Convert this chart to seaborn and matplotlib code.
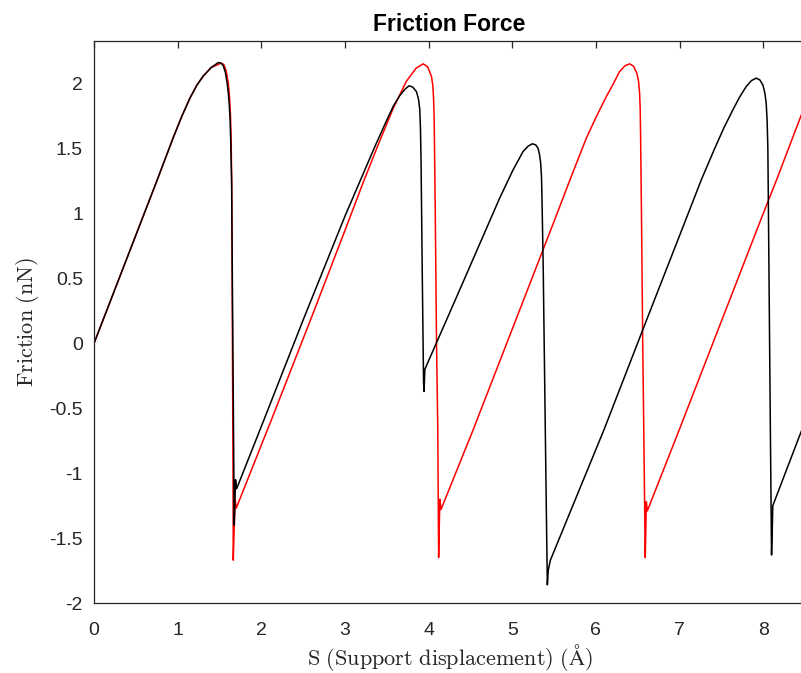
import matplotlib
matplotlib.use("Agg")
import matplotlib.pyplot as plt
import pandas as pd
import seaborn as sns

# Friction force vs. support displacement, two stick-slip runs
black_s = [0.00, 0.30, 0.60, 0.75, 0.95, 1.05, 1.147, 1.23, 1.306, 1.40, 1.485,
           1.52, 1.545, 1.57, 1.593, 1.607, 1.617, 1.627, 1.633, 1.645, 1.660,
           1.672, 1.676, 1.685, 1.692, 1.705, 2.043, 2.50, 3.00, 3.20,
           3.36, 3.50, 3.58, 3.656, 3.72, 3.767, 3.81, 3.855, 3.88, 3.895, 3.903,
           3.91, 3.925, 3.940, 3.946, 3.955, 4.37, 4.85, 5.01, 5.129, 5.19, 5.241,
           5.28, 5.308, 5.325, 5.34, 5.35, 5.356, 5.37, 5.39, 5.41, 5.42, 5.43,
           5.456, 6.10, 6.60, 7.00, 7.26, 7.419, 7.53, 7.638, 7.72, 7.797, 7.86,
           7.917, 7.96, 7.996, 8.02, 8.036, 8.047, 8.056, 8.07, 8.085, 8.10,
           8.108, 8.115, 8.43, 8.55]
black_f = [0.00, 0.50, 1.00, 1.25, 1.59, 1.75, 1.89, 1.99, 2.06, 2.125, 2.164,
           2.16, 2.14, 2.09, 2.00, 1.92, 1.84, 1.72, 1.60, 1.25, 0.00,
           -1.00, -1.40, -1.20, -1.05, -1.12, -0.57, 0.18, 0.98, 1.28,
           1.52, 1.72, 1.83, 1.91, 1.96, 1.985, 1.975, 1.94, 1.88, 1.80, 1.65,
           1.40, 0.50, -0.30, -0.37, -0.20, 0.41, 1.12, 1.337, 1.478, 1.52, 1.538,
           1.53, 1.504, 1.46, 1.39, 1.28, 1.106, 0.60, -0.40, -1.40, -1.86, -1.75,
           -1.67, -0.66, 0.17, 0.83, 1.26, 1.50, 1.66, 1.80, 1.90, 1.979, 2.025,
           2.044, 2.03, 1.992, 1.93, 1.851, 1.72, 1.504, 0.50, -0.60, -1.63,
           -1.45, -1.25, -0.72, -0.52]

red_s = [0.00, 0.30, 0.60, 0.75, 0.95, 1.05, 1.147, 1.23, 1.306, 1.40, 1.513,
         1.55, 1.58, 1.605, 1.62, 1.632, 1.64, 1.647, 1.655, 1.662, 1.665,
         1.675, 1.688, 1.70, 2.12, 2.60, 3.00, 3.218, 3.397, 3.576, 3.735, 3.85,
         3.935, 3.99, 4.035, 4.052, 4.06, 4.066, 4.07, 4.08, 4.095, 4.11, 4.12,
         4.128, 4.135, 4.148, 4.53, 5.00, 5.50, 5.69, 5.886, 6.00, 6.125, 6.20,
         6.284, 6.35, 6.404, 6.45, 6.49, 6.51, 6.523, 6.53, 6.535, 6.545, 6.56,
         6.575, 6.59, 6.598, 6.603, 6.615, 7.00, 7.50, 8.00, 8.16, 8.45, 8.55]
red_f = [0.00, 0.50, 1.00, 1.25, 1.59, 1.75, 1.89, 1.99, 2.06, 2.125, 2.158,
         2.15, 2.10, 2.01, 1.90, 1.75, 1.55, 1.20, 0.00, -1.00, -1.67,
         -1.45, -1.20, -1.27, -0.59, 0.20, 0.87, 1.24, 1.53, 1.81, 2.02, 2.12,
         2.154, 2.13, 2.056, 1.98, 1.877, 1.75, 1.57, 1.00, 0.00, -0.67, -1.65,
         -1.40, -1.20, -1.28, -0.67, 0.11, 0.94, 1.26, 1.582, 1.74, 1.902, 1.99,
         2.095, 2.14, 2.154, 2.135, 2.082, 2.02, 1.928, 1.80, 1.58, 1.00, 0.00,
         -0.80, -1.65, -1.40, -1.22, -1.29, -0.66, 0.17, 1.00, 1.26, 1.75, 1.91]

x_ticks = [0, 1, 2, 3, 4, 5, 6, 7, 8]
x_tick_labels = ["0", "1", "2", "3", "4", "5", "6", "7", "8"]
y_ticks = [-2, -1.5, -1, -0.5, 0, 0.5, 1, 1.5, 2]
y_tick_labels = ["-2", "-1.5", "-1", "-0.5", "0", "0.5", "1", "1.5", "2"]

sns.set_theme(style="white")
plt.rcParams["font.family"] = ["Liberation Sans", "DejaVu Sans"]
plt.rcParams["mathtext.fontset"] = "cm"
plt.rcParams["axes.unicode_minus"] = False

fig = plt.figure(figsize=(8.01, 6.73), dpi=100)
ax = fig.add_axes([94 / 801, 70 / 673, 711 / 801, 562 / 673])

df = pd.concat([
    pd.DataFrame({"s": red_s, "f": red_f, "run": "red"}),
    pd.DataFrame({"s": black_s, "f": black_f, "run": "black"}),
], ignore_index=True)

# red run underneath, black run on top
sns.lineplot(data=df, x="s", y="f", hue="run", hue_order=["red", "black"],
             palette={"black": "#000000", "red": "#ff0000"},
             sort=False, estimator=None, linewidth=1.1, legend=False, ax=ax)

ax.set_xlim(0, 8.5)
ax.set_ylim(-2, 2.33)
ax.set_xticks(x_ticks)
ax.set_xticklabels(x_tick_labels)
ax.set_yticks(y_ticks)
ax.set_yticklabels(y_tick_labels)

edge = "#262626"
for side in ["left", "bottom", "top", "right"]:
    ax.spines[side].set_visible(True)
    ax.spines[side].set_color(edge)
    ax.spines[side].set_linewidth(0.9)

ax.tick_params(axis="both", direction="in", length=5, width=0.9,
               top=True, right=False, labelsize=14, colors=edge)
ax.tick_params(axis="x", pad=13.5)
ax.tick_params(axis="y", pad=8)

ax.set_title("Friction Force", fontsize=16.5, fontweight="bold", pad=7, color="black")
ax.set_xlabel(r"$\mathrm{S\ (Support\ displacement)\ (\AA)}$", fontsize=16, color=edge)
ax.set_ylabel(r"$\mathrm{Friction\ (nN)}$", fontsize=16, color=edge)
ax.xaxis.set_label_coords(0.5, -0.069)
ax.yaxis.set_label_coords(-0.074, 0.5)

fig.savefig("out.png", dpi=100)
